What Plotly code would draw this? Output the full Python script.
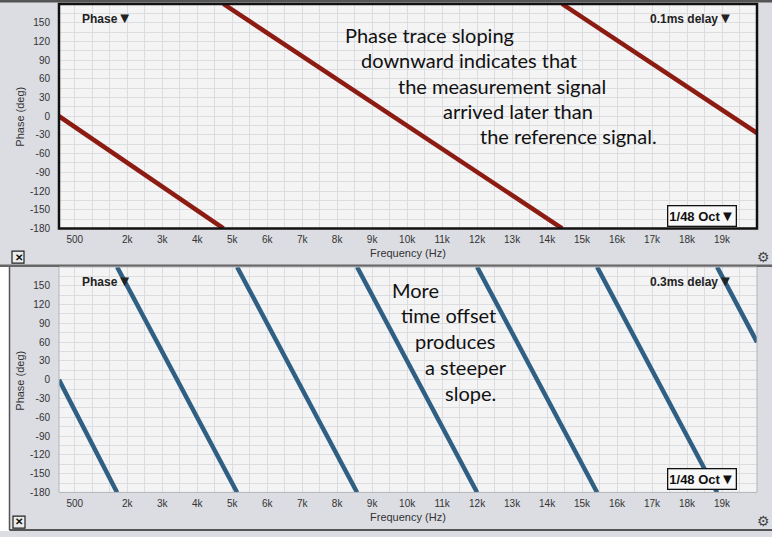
import plotly.graph_objects as go

W, H = 772, 537

# Axis ticks
freq_tickvals = [500, 2000, 3000, 4000, 5000, 6000, 7000, 8000, 9000, 10000,
                 11000, 12000, 13000, 14000, 15000, 16000, 17000, 18000, 19000]
freq_ticktext = ["500", "2k", "3k", "4k", "5k", "6k", "7k", "8k", "9k", "10k",
                 "11k", "12k", "13k", "14k", "15k", "16k", "17k", "18k", "19k"]
phase_tickvals = [-180, -150, -120, -90, -60, -30, 0, 30, 60, 90, 120, 150]
phase_ticktext = ["-180", "-150", "-120", "-90", "-60", "-30", "0", "30",
                  "60", "90", "120", "150"]

# Wrapped phase traces (segment end points, None breaks the line at each wrap)
fast_freq = [50, 4750, None, 4750, 14430, None, 14430, 20000]
fast_phase = [0, -180, None, 180, -180, None, 180, -27]

slow_freq = [50, 1710, None, 1710, 5140, None, 5140, 8570, None, 8570, 12000,
             None, 12000, 15430, None, 15430, 18860, None, 18860, 20000]
slow_phase = [0, -180, None, 180, -180, None, 180, -180, None, 180, -180,
              None, 180, -180, None, 180, -180, None, 180, 60]

top_note = ["Phase trace sloping", "downward indicates that",
            "the measurement signal", "arrived later than",
            "the reference signal."]
bottom_note = ["More", "time offset", "produces", "a steeper", "slope."]


def px(x):
    return x / W


def py(y):
    return 1 - y / H


PLOT_L, PLOT_R = 59, 757
TOP_T, TOP_B = 4, 231
BOT_T, BOT_B = 270, 498

BG = "#dcdde2"
PLOT_BG = "#f4f4f5"
GRID = "#dcdde1"
TICK_FONT = dict(family="Liberation Sans, Arial", size=10, color="#333333")
TRI = "<span style='font-size:15px'>▼</span>"

fig = go.Figure()
fig.add_trace(go.Scatter(x=fast_freq, y=fast_phase, mode="lines",
                         line=dict(color="#8c1b12", width=4.5),
                         connectgaps=False, xaxis="x", yaxis="y",
                         showlegend=False, hoverinfo="skip"))
fig.add_trace(go.Scatter(x=slow_freq, y=slow_phase, mode="lines",
                         line=dict(color="#2f5f82", width=4.5),
                         connectgaps=False, xaxis="x2", yaxis="y2",
                         showlegend=False, hoverinfo="skip"))

xgrid = list(range(500, 20000, 500))
ygrid = list(range(-165, 180, 15))

xcommon = dict(range=[50, 20000], domain=[px(PLOT_L), px(PLOT_R)],
               tickmode="array", tickvals=freq_tickvals, ticktext=freq_ticktext,
               showgrid=True, gridcolor=GRID, gridwidth=1, zeroline=False,
               showline=False, ticks="", tickfont=TICK_FONT,
               ticklabelstandoff=4, fixedrange=True,
               minor=dict(tickmode="array", tickvals=xgrid, showgrid=True,
                          gridcolor=GRID, gridwidth=1, ticks=""))
ycommon = dict(range=[-180, 180], tickmode="array", tickvals=phase_tickvals,
               ticktext=phase_ticktext,
               showgrid=True, gridcolor=GRID, gridwidth=1, zeroline=False,
               showline=False, ticks="", tickfont=TICK_FONT,
               ticklabelstandoff=8, fixedrange=True,
               minor=dict(tickmode="array", tickvals=ygrid, showgrid=True,
                          gridcolor=GRID, gridwidth=1, ticks=""))

fig.update_layout(
    width=W, height=H, margin=dict(l=0, r=0, t=0, b=0),
    paper_bgcolor=BG, plot_bgcolor=PLOT_BG,
    xaxis=dict(xcommon, anchor="y"),
    yaxis=dict(ycommon, anchor="x", domain=[py(TOP_B), py(TOP_T)]),
    xaxis2=dict(xcommon, anchor="y2"),
    yaxis2=dict(ycommon, anchor="x2", domain=[py(BOT_B), py(BOT_T)]),
)

shapes = []
# window chrome
shapes.append(dict(type="rect", xref="paper", yref="paper", x0=0, x1=1,
                   y0=py(2.5), y1=1, fillcolor="#555555", line=dict(width=0),
                   layer="above"))
shapes.append(dict(type="rect", xref="paper", yref="paper", x0=0, x1=1,
                   y0=py(270), y1=py(267.5), fillcolor="#666666",
                   line=dict(width=0), layer="above"))
shapes.append(dict(type="rect", xref="paper", yref="paper", x0=0, x1=px(9),
                   y0=0, y1=py(270), fillcolor="#ffffff", line=dict(width=0),
                   layer="below"))
shapes.append(dict(type="line", xref="paper", yref="paper", x0=px(9.5),
                   x1=px(9.5), y0=py(536), y1=py(270),
                   line=dict(color="#555555", width=1.5), layer="above"))
shapes.append(dict(type="rect", xref="paper", yref="paper", x0=px(9.5), x1=1,
                   y0=0, y1=py(535), fillcolor="#555555", line=dict(width=0),
                   layer="above"))
# plot frames
shapes.append(dict(type="rect", xref="paper", yref="paper",
                   x0=px(PLOT_L), x1=px(PLOT_R), y0=py(TOP_B), y1=py(TOP_T),
                   line=dict(color="#111111", width=2.5), layer="above"))
shapes.append(dict(type="rect", xref="paper", yref="paper",
                   x0=px(PLOT_L), x1=px(PLOT_R), y0=py(BOT_B), y1=py(BOT_T),
                   line=dict(color="#b4b5ba", width=1), layer="above"))
# close boxes
for (x0, y0) in [(12, 254), (13, 522)]:
    shapes.append(dict(type="rect", xref="paper", yref="paper",
                       x0=px(x0), x1=px(x0 + 12), y0=py(y0 + 12), y1=py(y0),
                       fillcolor="#ececec", line=dict(color="#222222", width=1.2),
                       layer="above"))
fig.update_layout(shapes=shapes)

ann = []


def text(x, y, s, size=11, xanchor="center", bold=False, family=None,
         color="#333333", **kw):
    f = dict(size=size, color=color,
             family=family or "Liberation Sans, Arial")
    if bold:
        s = "<b>" + s + "</b>"
    ann.append(dict(x=px(x), y=py(y), xref="paper", yref="paper", text=s,
                    showarrow=False, xanchor=xanchor, yanchor="middle",
                    font=f, **kw))


for yc, title_y in [(256, 118), (523, 385)]:
    text(408, yc, "Frequency (Hz)", size=11)
    text(20, title_y, "Phase (deg)", size=11, textangle=-90)

text(80, 18, "Phase" + TRI, size=12, xanchor="left", bold=True, color="#222222")
text(735, 18, "0.1ms delay" + TRI, size=12, xanchor="right", bold=True,
     color="#222222")
text(80, 284, "Phase" + TRI, size=12, xanchor="left", bold=True, color="#222222")
text(735, 284, "0.3ms delay" + TRI, size=12, xanchor="right", bold=True,
     color="#222222")

for yc in [218.5, 484.5]:
    text(702, yc, "1/48 Oct" + TRI, size=13, bold=True, color="#111111",
         bordercolor="#111111", borderwidth=1.3, borderpad=1, bgcolor="#f8f8f8")

for yc in [260, 527]:
    text(19, yc, "✕", size=10, bold=True, color="#111111")
    text(772, yc, "⚙", size=14, color="#444444", family="DejaVu Sans",
         xanchor="right")

top_x = [343, 359, 396, 441, 478]
top_y = [35, 61, 87, 112, 138]
for x, y, s in zip(top_x, top_y, top_note):
    text(x, y, s, size=20, xanchor="left", family="Lato", color="#111111")

bot_x = [390, 399, 413, 423, 443]
bot_y = [293, 319, 345, 371, 397]
for x, y, s in zip(bot_x, bot_y, bottom_note):
    text(x, y, s, size=20, xanchor="left", family="Lato", color="#111111")

fig.update_layout(annotations=ann)
fig.write_html("out.html")
